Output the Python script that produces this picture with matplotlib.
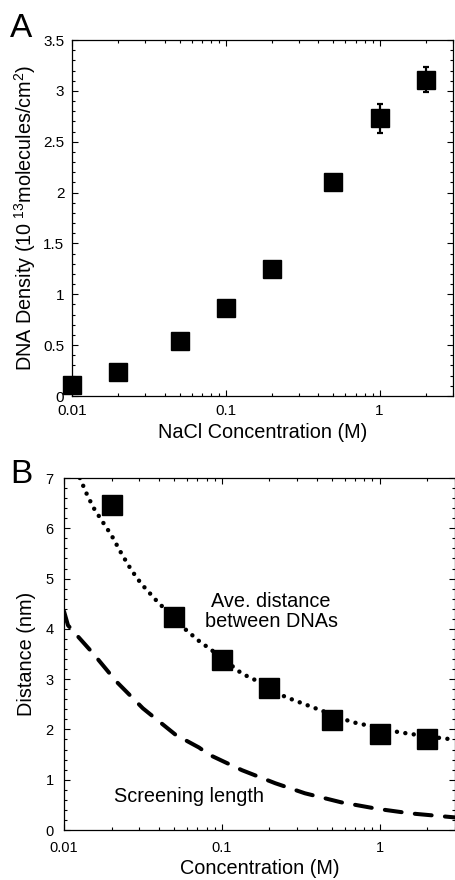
import numpy as np
import matplotlib
matplotlib.use("Agg")
import matplotlib.pyplot as plt
from matplotlib import rcParams
from matplotlib.ticker import FixedLocator, LogLocator, MultipleLocator, FuncFormatter, NullFormatter

rcParams['font.family'] = ['Liberation Sans', 'DejaVu Sans']
rcParams['mathtext.fontset'] = 'custom'
rcParams['mathtext.rm'] = 'Liberation Sans'
rcParams['mathtext.default'] = 'regular'

# Panel A: DNA surface density vs NaCl concentration
nacl = [0.01, 0.02, 0.05, 0.1, 0.2, 0.5, 1.0, 2.0]
density = [0.11, 0.24, 0.54, 0.87, 1.245, 2.105, 2.73, 3.11]
density_err = [0.03, 0.03, 0.04, 0.04, 0.05, 0.06, 0.14, 0.125]

# Panel B: measured average distance between DNAs
conc_pts = [0.02, 0.05, 0.1, 0.2, 0.5, 1.0, 2.0]
dist_pts = [6.47, 4.24, 3.38, 2.82, 2.19, 1.91, 1.81]

# dotted curve (ave. distance)
ave_x = [0.0126, 0.0139, 0.0153, 0.0173, 0.020, 0.0231, 0.0267, 0.0308, 0.0383,
         0.0563, 0.0716, 0.0912, 0.134, 0.171, 0.251, 0.370, 0.661, 1.30, 1.57, 2.55, 3.0]
ave_y = [7.0, 6.69, 6.42, 6.16, 5.86, 5.50, 5.17, 4.90, 4.57,
         4.04, 3.76, 3.52, 3.11, 2.95, 2.65, 2.45, 2.15, 1.95, 1.91, 1.82, 1.80]

# dashed curve (screening length)
scr_x = [0.01, 0.0106, 0.0153, 0.0215, 0.0316, 0.0511, 0.0717, 0.0828, 0.134,
         0.218, 0.336, 0.571, 0.971, 1.57, 2.55, 3.0]
scr_y = [4.35, 4.07, 3.51, 2.95, 2.42, 1.89, 1.64, 1.50, 1.19,
         0.93, 0.73, 0.55, 0.42, 0.33, 0.27, 0.25]

xticks = [0.01, 0.1, 1]
xticklabels = ["0.01", "0.1", "1"]

fig = plt.figure(figsize=(4.56, 8.8), dpi=100)
axA = fig.add_axes([72/456, 1 - 396/880, 381/456, 356/880])
axB = fig.add_axes([64/456, 1 - 830/880, 391/456, 352/880])


def style_axes(ax, fs, xpad, ypad):
    ax.set_xscale("log")
    ax.set_xlim(0.01, 3.0)
    ax.xaxis.set_major_locator(FixedLocator(xticks))
    ax.xaxis.set_major_formatter(FuncFormatter(lambda v, p: xticklabels[xticks.index(v)] if v in xticks else ""))
    ax.xaxis.set_minor_locator(LogLocator(base=10, subs=np.arange(2, 10)))
    ax.xaxis.set_minor_formatter(NullFormatter())
    ax.yaxis.set_major_formatter(FuncFormatter(lambda v, p: "%g" % v))
    ax.tick_params(which="both", direction="in", top=True, right=True, width=0.8)
    ax.tick_params(which="major", length=4, labelsize=fs)
    ax.tick_params(which="minor", length=2)
    ax.tick_params(axis="x", which="major", pad=xpad)
    ax.tick_params(axis="y", which="major", pad=ypad)
    for s in ax.spines.values():
        s.set_linewidth(0.9)


# ---- A ----
style_axes(axA, 11, 6, 5.5)
axA.errorbar(nacl, density, yerr=density_err, fmt="s", color="k", ms=13,
             elinewidth=1.6, capsize=2.5, capthick=1.6, clip_on=False, zorder=5)
axA.set_ylim(0, 3.5)
axA.yaxis.set_major_locator(MultipleLocator(0.5))
axA.yaxis.set_minor_locator(MultipleLocator(0.1))
axA.set_xlabel("NaCl Concentration (M)", fontsize=14.3, labelpad=3)
axA.set_ylabel(r"DNA Density (10$^{\ 13}$molecules/cm$^{2}$)", fontsize=14.3, labelpad=4)
fig.text(10/456, 1 - 37/880, "A", fontsize=24)

# ---- B ----
style_axes(axB, 10.5, 8, 7.5)
axB.plot(ave_x, ave_y, color="k", lw=3.2, linestyle=(0, (0.01, 1.9)),
         dash_capstyle="round", solid_capstyle="round")
axB.plot(scr_x, scr_y, color="k", lw=2.9, linestyle=(0, (4.2, 3.3)),
         dash_capstyle="round")
axB.plot(conc_pts, dist_pts, "s", color="k", ms=14.5)
axB.set_ylim(0, 7)
axB.yaxis.set_major_locator(MultipleLocator(1))
axB.yaxis.set_minor_locator(MultipleLocator(0.2))
axB.set_xlabel("Concentration (M)", fontsize=14.3, labelpad=3)
axB.set_ylabel("Distance (nm)", fontsize=14.3, labelpad=7)
axB.text(0.205, 4.35, "Ave. distance\nbetween DNAs", fontsize=14.3, ha="center", va="center",
         linespacing=1.05)
axB.text(0.062, 0.66, "Screening length", fontsize=14.3, ha="center", va="center")
fig.text(10/456, 1 - 483/880, "B", fontsize=24)

fig.savefig("out.png", dpi=100)
